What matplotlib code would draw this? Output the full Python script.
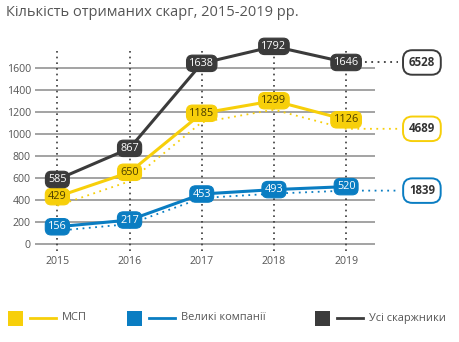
import matplotlib
matplotlib.use("Agg")
import matplotlib.pyplot as plt
from matplotlib.transforms import offset_copy
from matplotlib.patches import Rectangle
from matplotlib.lines import Line2D

plt.rcParams['font.family'] = ['Open Sans', 'DejaVu Sans']

years = [2015, 2016, 2017, 2018, 2019]
msp = [429, 650, 1185, 1299, 1126]
large = [156, 217, 453, 493, 520]
all_compl = [585, 867, 1638, 1792, 1646]
totals = {"msp": 4689, "large": 1839, "all": 6528}
yticks = [0, 200, 400, 600, 800, 1000, 1200, 1400, 1600]

title = "Кількість отриманих скарг, 2015-2019 рр."
legend_labels = ["МСП", "Великі компанії", "Усі скаржники"]

YELLOW = "#F7CF0A"
BLUE = "#0A7DC2"
DARK = "#3B3B3B"
GRID = "#8A8A8A"
TEXT = "#555555"

fig = plt.figure(figsize=(4.6, 3.42), dpi=100)
ax = fig.add_axes([0.0761, 0.2673, 0.7391, 0.5836])
ax.set_xlim(2014.69, 2019.40)
ax.set_ylim(-60, 1750)

for s in ax.spines.values():
    s.set_visible(False)
ax.set_yticks(yticks)
ax.set_xticks(years)
ax.tick_params(length=0, labelsize=7.6, labelcolor=TEXT, pad=3)
ax.tick_params(axis='x', pad=4)
for t in yticks:
    ax.axhline(t, color=GRID, lw=1.1, zorder=1)
for yr in years:
    ax.axvline(yr, color=DARK, lw=1.2, ls=(0, (1, 2.4)), zorder=1)

fig.text(6 / 460, 1 - 12 / 342, title, fontsize=10.5, color=TEXT, va='center', ha='left')

series = [
    (msp, YELLOW, -9, totals["msp"], "#4a3c00"),
    (large, BLUE, -4, totals["large"], "white"),
    (all_compl, DARK, None, totals["all"], "white"),
]

x_box = 2020.05
x_dot_end = 2019.72
for vals, color, shift, total, tcolor in series:
    # companion dotted trace under the main line
    if shift is not None:
        tr = offset_copy(ax.transData, fig=fig, y=shift, units='dots')
        ax.plot(years + [x_dot_end], vals + [vals[-1]], color=color, lw=1.3,
                ls=(0, (1, 2.5)), transform=tr, zorder=2, clip_on=False)
    else:
        tr = ax.transData
        ax.plot([years[-1], x_dot_end], [vals[-1], vals[-1]], color=color, lw=1.3,
                ls=(0, (1, 2.5)), zorder=2, clip_on=False)
    ax.plot(years, vals, color=color, lw=2.2, zorder=3, clip_on=False,
            solid_capstyle='round')
    for x, v in zip(years, vals):
        ax.text(x, v, str(v), ha='center', va='center', fontsize=7.8, color=tcolor,
                zorder=5, clip_on=False,
                bbox=dict(boxstyle="round,pad=0.25,rounding_size=0.55",
                          fc=color, ec=color, lw=0.8))
    ax.text(x_box, vals[-1], str(total), ha='center', va='center', fontsize=8.3,
            fontweight='bold', color="#333333", transform=tr, zorder=5, clip_on=False,
            bbox=dict(boxstyle="round,pad=0.5,rounding_size=0.8",
                      fc="white", ec=color, lw=1.4))

# legend row
W, H = 460, 342
leg_y = 318
items = [(8, YELLOW), (127, BLUE), (315, DARK)]
for (x0, color), label in zip(items, legend_labels):
    fig.add_artist(Rectangle((x0 / W, 1 - (leg_y + 7.5) / H), 15 / W, 15 / H,
                             transform=fig.transFigure, fc=color, ec='none'))
    fig.add_artist(Line2D([(x0 + 22) / W, (x0 + 48) / W], [1 - leg_y / H] * 2,
                          transform=fig.transFigure, color=color, lw=2))
    fig.text((x0 + 54) / W, 1 - leg_y / H, label, fontsize=7.9, color=TEXT,
             va='center', ha='left')

fig.savefig("out.png", dpi=100)
